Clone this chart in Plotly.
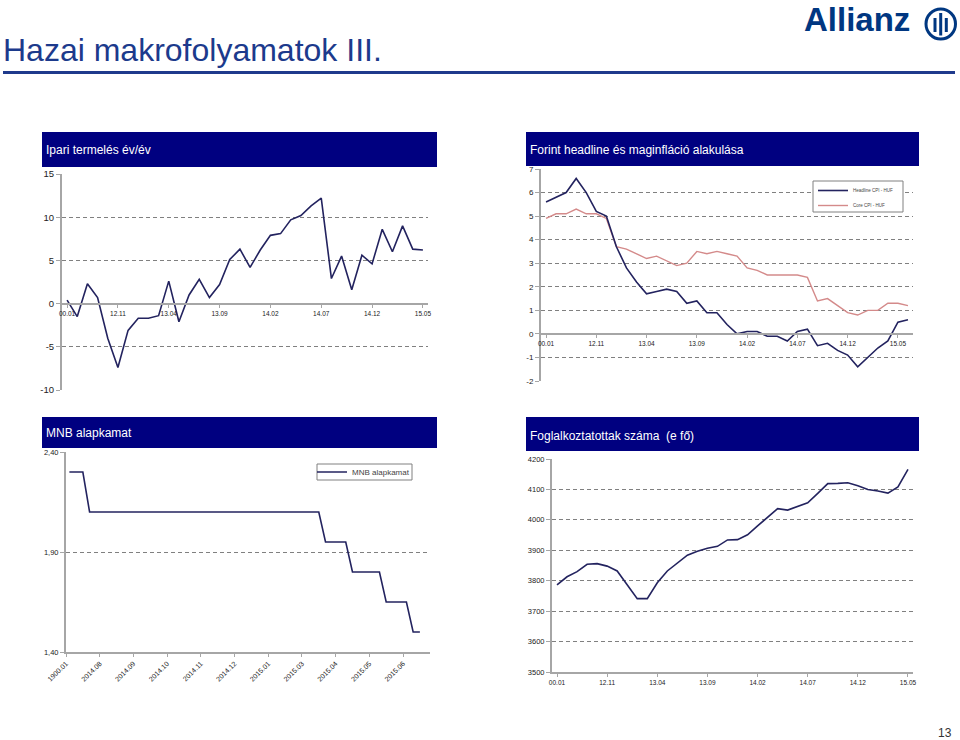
import plotly.graph_objects as go

W, H = 960, 740
FONT = "Liberation Sans, Arial, sans-serif"
NAVY_LINE = "#23235f"
CORE_COLOR = "#d48a8a"
BAND = "#000080"
GRID = "#808080"
AXIS = "#a6a6a6"
TXT = "#222222"


def fx(p):
    return p / W


def fy(p):
    return 1 - p / H


# ---------------- data ----------------
ip_months = ["00.01", "12.07", "12.08", "12.09", "12.10", "12.11", "12.12",
             "13.01", "13.02", "13.03", "13.04", "13.05", "13.06", "13.07",
             "13.08", "13.09", "13.10", "13.11", "13.12", "14.01", "14.02",
             "14.03", "14.04", "14.05", "14.06", "14.07", "14.08", "14.09",
             "14.10", "14.11", "14.12", "15.01", "15.02", "15.03", "15.04",
             "15.05"]
ip_yoy = [0.4, -1.5, 2.3, 0.7, -4.0, -7.4, -3.1, -1.7, -1.7, -1.4, 2.6, -2.1,
          1.0, 2.8, 0.7, 2.2, 5.1, 6.3, 4.2, 6.2, 7.9, 8.1, 9.7, 10.2, 11.3,
          12.2, 2.9, 5.5, 1.6, 5.6, 4.6, 8.6, 6.0, 9.0, 6.3, 6.2]
ip_y_ticks = [-10, -5, 0, 5, 10, 15]
ip_y_labels = ["-10", "-5", "0", "5", "10", "15"]

cpi_months = ["00.01", "12.07", "12.08", "12.09", "12.10", "12.11", "12.12",
              "13.01", "13.02", "13.03", "13.04", "13.05", "13.06", "13.07",
              "13.08", "13.09", "13.10", "13.11", "13.12", "14.01", "14.02",
              "14.03", "14.04", "14.05", "14.06", "14.07", "14.08", "14.09",
              "14.10", "14.11", "14.12", "15.01", "15.02", "15.03", "15.04",
              "15.05", "15.06"]
cpi_headline = [5.6, 5.8, 6.0, 6.6, 6.0, 5.2, 5.0, 3.7, 2.8, 2.2, 1.7, 1.8,
                1.9, 1.8, 1.3, 1.4, 0.9, 0.9, 0.4, 0.0, 0.1, 0.1, -0.1, -0.1,
                -0.3, 0.1, 0.2, -0.5, -0.4, -0.7, -0.9, -1.4, -1.0, -0.6,
                -0.3, 0.5, 0.6]
cpi_core = [4.9, 5.1, 5.1, 5.3, 5.1, 5.1, 4.9, 3.7, 3.6, 3.4, 3.2, 3.3, 3.1,
            2.9, 3.0, 3.5, 3.4, 3.5, 3.4, 3.3, 2.8, 2.7, 2.5, 2.5, 2.5, 2.5,
            2.4, 1.4, 1.5, 1.2, 0.9, 0.8, 1.0, 1.0, 1.3, 1.3, 1.2]
cpi_y_ticks = [-2, -1, 0, 1, 2, 3, 4, 5, 6, 7]
cpi_y_labels = ["-2", "-1", "0", "1", "2", "3", "4", "5", "6", "7"]

rate_values = [2.30, 2.30, 2.30,
               2.10, 2.10, 2.10, 2.10, 2.10, 2.10, 2.10, 2.10, 2.10, 2.10,
               2.10, 2.10, 2.10, 2.10, 2.10, 2.10, 2.10, 2.10, 2.10, 2.10,
               2.10, 2.10, 2.10, 2.10, 2.10, 2.10, 2.10, 2.10, 2.10, 2.10,
               2.10, 2.10, 2.10, 2.10, 2.10,
               1.95, 1.95, 1.95, 1.95,
               1.80, 1.80, 1.80, 1.80, 1.80,
               1.65, 1.65, 1.65, 1.65,
               1.50, 1.50]
rate_tick_labels = ["1900.01", "2014.08", "2014.09", "2014.10", "2014.11",
                    "2014.12", "2015.01", "2015.03", "2015.04", "2015.05",
                    "2015.06"]
rate_y_ticks = [1.40, 1.90, 2.40]
rate_y_labels = ["1,40", "1,90", "2,40"]

emp_months = ip_months
emp_values = [3786, 3813, 3830, 3854, 3856, 3848, 3832, 3786, 3741, 3741,
              3793, 3832, 3857, 3884, 3897, 3907, 3913, 3934, 3935, 3951,
              3980, 4008, 4037, 4032, 4045, 4056, 4087, 4119, 4120, 4122,
              4112, 4100, 4095, 4088, 4108, 4166]

# ---------------- traces ----------------
fig = go.Figure()
fig.add_trace(go.Scatter(x=ip_months, y=ip_yoy, mode="lines",
                         line=dict(color=NAVY_LINE, width=1.6),
                         xaxis="x", yaxis="y", showlegend=False))
fig.add_trace(go.Scatter(x=cpi_months, y=cpi_core, mode="lines",
                         name="Core CPI - HUF",
                         line=dict(color=CORE_COLOR, width=1.4),
                         xaxis="x2", yaxis="y2", legend="legend3"))
fig.add_trace(go.Scatter(x=cpi_months, y=cpi_headline, mode="lines",
                         name="Headline CPI - HUF",
                         line=dict(color=NAVY_LINE, width=1.6),
                         xaxis="x2", yaxis="y2", legend="legend"))
fig.add_trace(go.Scatter(x=list(range(len(rate_values))), y=rate_values,
                         mode="lines", name="MNB alapkamat",
                         line=dict(color=NAVY_LINE, width=1.6),
                         xaxis="x3", yaxis="y3", legend="legend2"))
fig.add_trace(go.Scatter(x=emp_months, y=emp_values, mode="lines",
                         line=dict(color=NAVY_LINE, width=1.6),
                         xaxis="x4", yaxis="y4", showlegend=False))

GRID_DASH = "4px,3px"


def yax(**kw):
    d = dict(showgrid=True, gridcolor=GRID, griddash=GRID_DASH, gridwidth=1,
             showline=True, linecolor=AXIS, linewidth=2, ticks="outside",
             ticklen=4, tickcolor=AXIS, zeroline=False, automargin=False,
             tickfont=dict(family=FONT, size=8, color=TXT))
    d.update(kw)
    return d


def xax(**kw):
    d = dict(showgrid=False, showline=True, linecolor=AXIS, linewidth=1.5,
             ticks="outside", ticklen=3, tickcolor=AXIS, zeroline=False,
             automargin=False,
             tickfont=dict(family=FONT, size=6.5, color=TXT))
    d.update(kw)
    return d


def leg(x, y, size):
    return dict(x=fx(x), y=fy(y), xanchor="left", yanchor="middle",
                bgcolor="rgba(0,0,0,0)", borderwidth=0,
                font=dict(family=FONT, size=size, color="#444"),
                itemwidth=30)


fig.update_layout(
    width=W, height=H, autosize=False,
    margin=dict(l=0, r=0, t=0, b=0, pad=0, autoexpand=False),
    paper_bgcolor="white", plot_bgcolor="white",
    font=dict(family=FONT, color=TXT),
    xaxis=xax(type="category", range=[-0.5, 35.5], tickmode="array",
              tickvals=ip_months[::5], domain=[fx(62), fx(428)],
              anchor="free", position=fy(304)),
    yaxis=yax(range=[-10, 15], tickmode="array", tickvals=ip_y_ticks,
              ticktext=ip_y_labels, domain=[fy(390), fy(174)], anchor="x",
              tickfont=dict(family=FONT, size=9.5, color=TXT)),
    xaxis2=xax(type="category", range=[-0.5, 36.5], tickmode="array",
               tickvals=cpi_months[:36:5], domain=[fx(541), fx(913)],
               anchor="free", position=fy(334)),
    yaxis2=yax(range=[-2, 7], tickmode="array", tickvals=cpi_y_ticks,
               ticktext=cpi_y_labels, domain=[fy(381), fy(169)],
               anchor="x2"),
    xaxis3=xax(range=[-0.5, 53.5], tickmode="array",
               tickvals=[5 * k - 0.5 for k in range(len(rate_tick_labels))],
               ticktext=rate_tick_labels, tickangle=-45,
               tickfont=dict(family=FONT, size=7, color=TXT),
               domain=[fx(66), fx(430)], anchor="y3"),
    yaxis3=yax(range=[1.4, 2.4], tickmode="array", tickvals=rate_y_ticks,
               ticktext=rate_y_labels, domain=[fy(652), fy(452)],
               anchor="x3", tickfont=dict(family=FONT, size=7.5, color=TXT)),
    xaxis4=xax(type="category", range=[-0.5, 35.5], tickmode="array",
               tickvals=emp_months[::5], domain=[fx(552), fx(913)],
               anchor="y4"),
    yaxis4=yax(range=[3500, 4200], tickmode="linear", tick0=3500, dtick=100,
               domain=[fy(672), fy(459)], anchor="x4",
               tickfont=dict(family=FONT, size=7.5, color=TXT)),
    legend=leg(813, 190.5, 4.5),
    legend3=leg(813, 205.5, 4.5),
    legend2=leg(312, 472, 8),
)

shapes = []
annotations = []

# legend frames
for x0, x1, y0, y1 in [(813, 903, 181, 212), (317, 412, 464, 480)]:
    shapes.append(dict(type="rect", xref="paper", yref="paper",
                       x0=fx(x0), x1=fx(x1), y0=fy(y1), y1=fy(y0),
                       fillcolor="white", line=dict(color="#808080", width=1),
                       layer="above"))

# header bands with titles
bands = [
    (42, 437, 132, 167, "Ipari termelés év/év", 44, 149.5),
    (526, 919, 132, 166, "Forint headline és maginfláció alakulása", 528, 150),
    (42, 437, 417, 448, "MNB alapkamat", 44, 433.5),
    (526, 919, 417, 451, "Foglalkoztatottak száma  (e fő)", 528, 435.5),
]
for x0, x1, y0, y1, text, tx, ty in bands:
    shapes.append(dict(type="rect", xref="paper", yref="paper",
                       x0=fx(x0), x1=fx(x1), y0=fy(y1), y1=fy(y0),
                       fillcolor=BAND, line=dict(width=0), layer="below"))
    annotations.append(dict(text=text, xref="paper", yref="paper",
                            x=fx(tx), y=fy(ty), xanchor="left",
                            yanchor="middle", showarrow=False,
                            font=dict(family=FONT, size=12, color="white")))

# page title and underline
annotations.append(dict(text="Hazai makrofolyamatok III.", xref="paper",
                        yref="paper", x=fx(1), y=fy(50), xanchor="left",
                        yanchor="middle", showarrow=False,
                        font=dict(family=FONT, size=32, color="#1c3a8c")))
shapes.append(dict(type="line", xref="paper", yref="paper", x0=fx(3),
                   x1=fx(955), y0=fy(72.5), y1=fy(72.5),
                   line=dict(color="#1f3a8c", width=3)))

# Allianz logo
LOGO = "#003781"
annotations.append(dict(text="<b>Allianz</b>", xref="paper", yref="paper",
                        x=fx(802), y=fy(20), xanchor="left",
                        yanchor="middle", showarrow=False,
                        font=dict(family=FONT, size=33, color=LOGO)))
shapes.append(dict(type="circle", xref="paper", yref="paper",
                   x0=fx(926), x1=fx(955.5), y0=fy(39), y1=fy(9),
                   line=dict(color=LOGO, width=3)))
for bx0, bx1, by0, by1 in [(933.5, 936.5, 18, 32), (939.2, 942.2, 13, 35.5),
                           (944.8, 947.8, 18, 32)]:
    shapes.append(dict(type="rect", xref="paper", yref="paper",
                       x0=fx(bx0), x1=fx(bx1), y0=fy(by1), y1=fy(by0),
                       fillcolor=LOGO, line=dict(width=0)))

# page number
annotations.append(dict(text="13", xref="paper", yref="paper", x=fx(945),
                        y=fy(733), xanchor="center", yanchor="middle",
                        showarrow=False,
                        font=dict(family=FONT, size=12, color="#333")))

fig.update_layout(shapes=shapes, annotations=annotations)

fig.write_html(
    "out.html",
    config={"displayModeBar": False},
    post_script="document.body.style.margin='0px';"
                "document.body.style.overflow='hidden';",
)
